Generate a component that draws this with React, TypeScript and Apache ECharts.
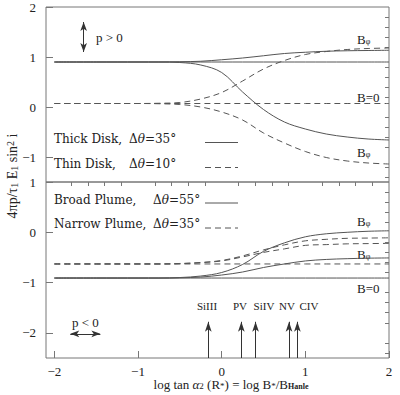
import React, { useEffect, useRef } from "react";
import * as echarts from "echarts";

// ---- data ----
const xs = [-2, -1.5, -1, -0.75, -0.5, -0.25, 0, 0.25, 0.5, 0.75, 1, 1.25, 1.5, 1.75, 2];

// top panel (disks)
const thickFlat = [0.9, 0.9, 0.9, 0.9, 0.9, 0.9, 0.9, 0.9, 0.9, 0.9, 0.9, 0.9, 0.9, 0.9, 0.9];
const thickUp = [0.9, 0.9, 0.9, 0.9, 0.905, 0.915, 0.945, 0.98, 1.025, 1.07, 1.095, 1.115, 1.125, 1.13, 1.135];
const thickDown = [0.9, 0.9, 0.9, 0.9, 0.89, 0.84, 0.69, 0.3, -0.05, -0.3, -0.44, -0.54, -0.6, -0.64, -0.66];
const thinFlat = [0.07, 0.07, 0.07, 0.07, 0.07, 0.07, 0.07, 0.07, 0.07, 0.07, 0.07, 0.07, 0.07, 0.07, 0.07];
const thinUp = [0.07, 0.07, 0.07, 0.075, 0.09, 0.16, 0.29, 0.52, 0.76, 0.93, 1.05, 1.11, 1.15, 1.17, 1.18];
const thinDown = [0.07, 0.07, 0.07, 0.065, 0.05, 0.0, -0.1, -0.26, -0.52, -0.72, -0.89, -1.01, -1.08, -1.12, -1.14];

// bottom panel (plumes)
const broadFlat = [-0.91, -0.91, -0.91, -0.91, -0.91, -0.91, -0.91, -0.91, -0.91, -0.91, -0.91, -0.91, -0.91, -0.91, -0.91];
const broadUp = [-0.91, -0.91, -0.91, -0.91, -0.9, -0.87, -0.8, -0.64, -0.38, -0.21, -0.09, -0.03, 0.0, 0.02, 0.03];
const broadLow = [-0.91, -0.91, -0.91, -0.91, -0.905, -0.89, -0.85, -0.79, -0.7, -0.63, -0.57, -0.54, -0.525, -0.515, -0.51];
const narrowFlat = [-0.63, -0.63, -0.63, -0.63, -0.63, -0.63, -0.63, -0.63, -0.63, -0.63, -0.63, -0.63, -0.63, -0.63, -0.63];
const narrowUp = [-0.63, -0.63, -0.63, -0.63, -0.62, -0.6, -0.56, -0.47, -0.35, -0.25, -0.17, -0.14, -0.12, -0.115, -0.11];
const narrowLow = [-0.63, -0.63, -0.63, -0.63, -0.625, -0.605, -0.57, -0.49, -0.4, -0.33, -0.26, -0.245, -0.23, -0.225, -0.22];

// annotations
const ionNames = ["SiIII", "PV", "SiIV", "NV", "CIV"];
const ionX = [-0.16, 0.235, 0.405, 0.805, 0.905];
const ionArrowY = [-2.5, -1.78];
const pPosArrowX = [-1.65, -1.65];
const pPosArrowY = [1.1, 1.7];
const pNegArrowX = [-1.81, -1.45];
const pNegArrowY = [-2.02, -2.02];

// ticks
const xMajor = [-2, -1, 0, 1, 2];
const xMinor = [-1.8, -1.6, -1.4, -1.2, -0.8, -0.6, -0.4, -0.2, 0.2, 0.4, 0.6, 0.8, 1.2, 1.4, 1.6, 1.8];
const yTopMajor = [-1, 0, 1, 2];
const yTopMinor = [-1.4, -1.2, -0.8, -0.6, -0.4, -0.2, 0.2, 0.4, 0.6, 0.8, 1.2, 1.4, 1.6, 1.8];
const yBotMajor = [-2, -1, 0, 1];
const yBotMinor = [-2.4, -2.2, -1.8, -1.6, -1.4, -1.2, -0.8, -0.6, -0.4, -0.2, 0.2, 0.4, 0.6, 0.8];

const SERIF = "'Liberation Serif', 'DejaVu Serif', serif";
const DSERIF = "'DejaVu Serif', 'Liberation Serif', serif";
const LINE = "#555";
const TEXT = "#222";
const AXIS = "#777";

const pair = (a: number[], b: number[]) => a.map((v, i) => [v, b[i]]);
const minus = (v: number) => (v < 0 ? "\u2212" + Math.abs(v) : String(v));

export default function App() {
  const ref = useRef<HTMLDivElement>(null);
  useEffect(() => {
    if (!ref.current) return;
    const chart = echarts.init(ref.current, null, { renderer: "svg" });

    const curve = (xi: number, yi: number, ys: number[], dashed: boolean) => ({
      type: "line",
      xAxisIndex: xi,
      yAxisIndex: yi,
      data: pair(xs, ys),
      showSymbol: false,
      smooth: 0.35,
      silent: true,
      lineStyle: { color: LINE, width: 1, type: dashed ? [6, 4] : "solid" },
    });

    const majorAxis = (grid: number, min: number, max: number, values: number[], isX: boolean) => ({
      type: "value",
      gridIndex: grid,
      min,
      max,
      axisLine: { show: false, onZero: false },
      splitLine: { show: false },
      axisTick: { show: true, inside: true, length: 7, customValues: values, lineStyle: { color: AXIS } },
      axisLabel: {
        show: true,
        customValues: values,
        formatter: minus,
        fontFamily: SERIF,
        fontSize: 13,
        color: TEXT,
        margin: isX ? 7 : 10,
        showMinLabel: true,
        showMaxLabel: true,
      },
    });
    const minorAxis = (grid: number, min: number, max: number, values: number[]) => ({
      type: "value",
      gridIndex: grid,
      min,
      max,
      axisLine: { show: false, onZero: false },
      splitLine: { show: false },
      axisTick: { show: true, inside: true, length: 4, customValues: values, lineStyle: { color: AXIS } },
      axisLabel: { show: false },
    });

    const arrowStyle = { color: "#333", width: 1, type: "solid" };

    const text = (x: number, y: number, t: string, extra: any = {}) => {
      const ff = extra.fontFamily || SERIF;
      const fs = extra.fontSize || 13;
      const sub = { fontSize: Math.round(fs * 0.7), fontFamily: ff, verticalAlign: "bottom", lineHeight: Math.round(fs * 0.7), color: TEXT };
      return {
        type: "text",
        x,
        y,
        silent: true,
        style: {
          text: t,
          fontFamily: ff,
          fontSize: fs,
          fill: TEXT,
          verticalAlign: "middle",
          align: "left",
          rich: {
            i: { fontStyle: "italic", fontFamily: ff, fontSize: fs, color: TEXT },
            sub,
            subs: { ...sub, fontSize: 8, lineHeight: 8 },
            subb: { ...sub, fontSize: 8, fontWeight: "bold", lineHeight: 8 },
            sup: { ...sub, verticalAlign: "top" },
          },
          ...extra,
        },
      };
    };
    const sample = (y: number, dashed: boolean) => ({
      type: "line",
      silent: true,
      shape: { x1: 205, y1: y, x2: 238, y2: y },
      style: { stroke: LINE, lineWidth: 1, lineDash: dashed ? [6, 4] : null },
    });
    const legendFont = { fontFamily: DSERIF, fontSize: 12 };

    chart.setOption({
      animation: false,
      grid: [
        { left: 46, top: 7, width: 343, height: 175, show: true, borderColor: AXIS, borderWidth: 1, backgroundColor: "transparent" },
        { left: 46, top: 182, width: 343, height: 176, show: true, borderColor: AXIS, borderWidth: 1, backgroundColor: "transparent" },
      ],
      xAxis: [
        { type: "value", gridIndex: 0, min: -2.1, max: 2, axisLine: { show: false, onZero: false }, axisTick: { show: false }, axisLabel: { show: false }, splitLine: { show: false } },
        majorAxis(1, -2.1, 2, xMajor, true),
        minorAxis(1, -2.1, 2, xMinor),
      ],
      yAxis: [
        majorAxis(0, -1.5, 2, yTopMajor, false),
        minorAxis(0, -1.5, 2, yTopMinor),
        majorAxis(1, -2.5, 1, yBotMajor, false),
        minorAxis(1, -2.5, 1, yBotMinor),
      ],
      series: [
        curve(0, 0, thickFlat, false),
        curve(0, 0, thickUp, false),
        curve(0, 0, thickDown, false),
        curve(0, 0, thinFlat, true),
        curve(0, 0, thinUp, true),
        curve(0, 0, thinDown, true),
        curve(1, 2, broadFlat, false),
        curve(1, 2, broadUp, false),
        curve(1, 2, broadLow, false),
        curve(1, 2, narrowFlat, true),
        curve(1, 2, narrowUp, true),
        curve(1, 2, narrowLow, true),
        {
          type: "line",
          xAxisIndex: 0,
          yAxisIndex: 0,
          data: [],
          silent: true,
          markLine: {
            silent: true,
            symbol: ["arrow", "arrow"],
            symbolSize: [5, 9],
            label: { show: false },
            lineStyle: arrowStyle,
            data: [[{ coord: [pPosArrowX[0], pPosArrowY[0]] }, { coord: [pPosArrowX[1], pPosArrowY[1]] }]],
          },
        },
        {
          type: "line",
          xAxisIndex: 1,
          yAxisIndex: 2,
          data: [],
          silent: true,
          markLine: {
            silent: true,
            symbol: ["arrow", "arrow"],
            symbolSize: [5, 9],
            label: { show: false },
            lineStyle: arrowStyle,
            data: [[{ coord: [pNegArrowX[0], pNegArrowY[0]] }, { coord: [pNegArrowX[1], pNegArrowY[1]] }]],
          },
        },
        {
          type: "line",
          xAxisIndex: 1,
          yAxisIndex: 2,
          data: [],
          silent: true,
          markLine: {
            silent: true,
            symbol: ["none", "arrow"],
            symbolSize: [5, 10],
            label: { show: false },
            lineStyle: arrowStyle,
            data: ionX.map((x, i) => [
              { coord: [x, ionArrowY[0]], name: ionNames[i] },
              { coord: [x, ionArrowY[1]] },
            ]),
          },
        },
      ],
      graphic: [
        text(96, 37, "p > 0"),
        text(72, 322, "p < 0"),
        text(54, 139, "Thick Disk,", legendFont),
        text(129, 139, "Δ{i|θ}=35°", legendFont),
        text(54, 164, "Thin Disk,", legendFont),
        text(129, 164, "Δ{i|θ}=10°", legendFont),
        text(54, 200, "Broad Plume,", legendFont),
        text(153, 200, "Δ{i|θ}=55°", legendFont),
        text(54, 224, "Narrow Plume,", legendFont),
        text(153, 224, "Δ{i|θ}=35°", legendFont),
        sample(142.5, false),
        sample(167.5, true),
        sample(203, false),
        sample(228, true),
        text(357, 39, "B{subs|φ}"),
        text(357, 97, "B=0"),
        text(357, 152, "B{subs|φ}"),
        text(357, 221, "B{subs|φ}"),
        text(357, 254, "B{subs|φ}"),
        text(357, 288, "B=0"),
        text(207, 306, ionNames[0], { align: "center", fontSize: 11 }),
        text(240, 306, ionNames[1], { align: "center", fontSize: 11 }),
        text(264, 306, ionNames[2], { align: "center", fontSize: 11 }),
        text(287, 306, ionNames[3], { align: "center", fontSize: 11 }),
        text(309, 306, ionNames[4], { align: "center", fontSize: 11 }),
        text(231, 384, "log tan {i|α}{sub|2} (R{sub|*}) = log B{sub|*}/B{subb|Hanle}", { align: "center" }),
        {
          ...text(12, 176, "4πp/τ{sub|1} E{sub|1} sin{sup|2} i", { align: "center", fontSize: 14 }),
          rotation: Math.PI / 2,
        },
      ],
    });
    return () => chart.dispose();
  }, []);
  return <div ref={ref} style={{ position: "fixed", left: 0, top: 0, width: 400, height: 395, background: "#fff" }} />;
}
